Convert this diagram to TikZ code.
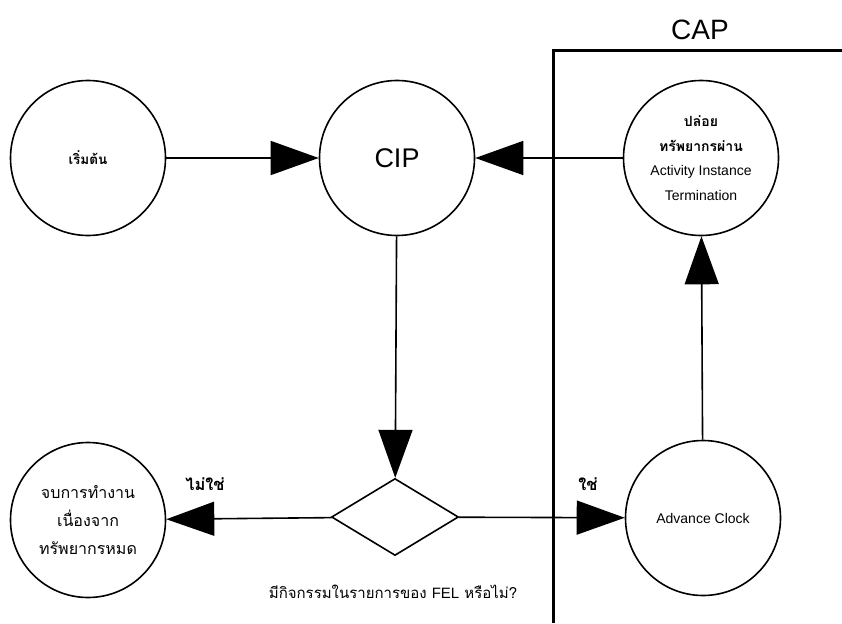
\documentclass[tikz,border=0pt]{standalone}
\usepackage{fontspec}
\setmainfont{Liberation Sans}
\newfontfamily\thai[Script=Thai]{Loma}
\usetikzlibrary{arrows.meta,shapes.geometric}
\begin{document}
\begin{tikzpicture}[x=1pt,y=-1pt,
  state/.style={circle,draw,line width=1.6pt,minimum size=155pt,inner sep=0pt,align=center},
  decision/.style={diamond,draw,line width=1.6pt,minimum width=127pt,minimum height=77pt,inner sep=0pt},
  flow/.style={line width=1.6pt,-{Triangle[length=48pt,width=34pt]}},
  yn/.style={font=\thai\bfseries\fontsize{16.5}{18}\selectfont}]
\useasboundingbox (0,0) rectangle (842,623);

% CAP region
\draw[line width=3pt] (553,623) -- (553,51) -- (842,51);
\node[font=\fontsize{28}{30}\selectfont] (cap) at (700,30) {CAP};

% states
\node[state,font=\thai\bfseries\fontsize{13.5}{16}\selectfont] (start) at (88,158) {เริ่มต้น};
\node[state,font=\fontsize{27}{30}\selectfont] (cip) at (397,158) {CIP};
\node[state,font=\fontsize{14}{24.5}\selectfont] (term) at (701,158)
  {{\thai\bfseries ปล่อย}\\{\thai\bfseries ทรัพยากรผ่าน}\\Activity Instance\\Termination};
\node[state,font=\fontsize{14}{16}\selectfont] (clock) at (703,518) {Advance Clock};
\node[state,font=\thai\fontsize{16}{28}\selectfont] (stop) at (88,520) {จบการทำงาน\\เนื่องจาก\\ทรัพยากรหมด};
\node[decision] (dec) at (395,517) {};

% branch labels and question
\node[yn] (no) at (205,484) {ไม่ใช่};
\node[yn] (yes) at (588,484) {ใช่};
\node[font=\thai\fontsize{15}{17}\selectfont] (q) at (393,592) {มีกิจกรรมในรายการของ {\fontfamily{\familydefault}\selectfont FEL} หรือไม่?};

% connectors
\draw[flow] (start) -- (cip);
\draw[flow] (term) -- (cip);
\draw[flow] (cip) -- (dec);
\draw[flow] (dec) -- (stop);
\draw[flow] (dec) -- (clock);
\draw[flow] (clock) -- (term);
\end{tikzpicture}
\end{document}
